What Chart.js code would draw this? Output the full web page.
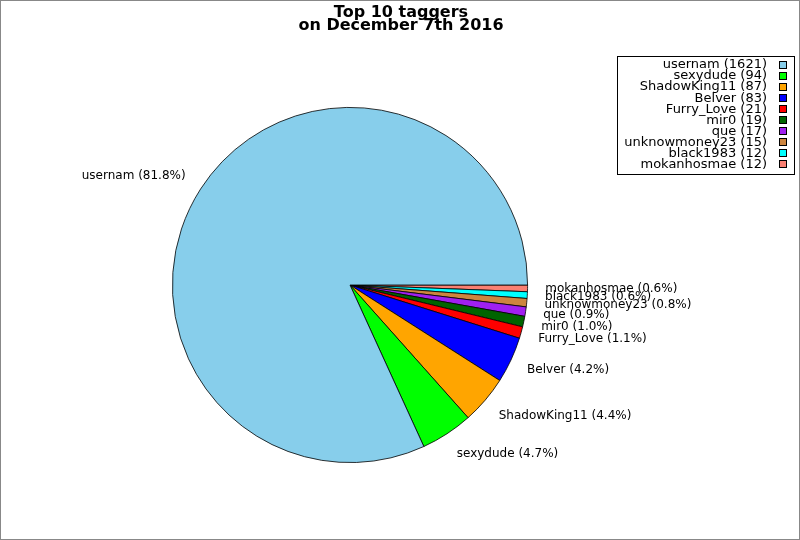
<!DOCTYPE html>
<html>
<head>
<meta charset="utf-8">
<script src="https://cdn.jsdelivr.net/npm/chart.js@4/dist/chart.umd.min.js"></script>
<style>
  html, body { margin: 0; padding: 0; background: #fff; }
  #wrap { position: relative; width: 800px; height: 540px; box-sizing: border-box; border: 1px solid #888; }
</style>
</head>
<body>
<div id="wrap"><canvas id="pieChart"></canvas></div>
<script>
// data
const taggers = ["usernam", "sexydude", "ShadowKing11", "Belver", "Furry_Love", "mir0", "que", "unknowmoney23", "black1983", "mokanhosmae"];
const tagCounts = [1621, 94, 87, 83, 21, 19, 17, 15, 12, 12];
const sliceColors = ["#87CEEB", "#00FF00", "#FFA500", "#0000FF", "#FF0000", "#006400", "#A020F0", "#CD853F", "#00FFFF", "#FA8072"];
const titleLines = ["Top 10 taggers", "on December 7th 2016"];

const FONT = "DejaVu Sans, Verdana, sans-serif";
const total = tagCounts.reduce((a, b) => a + b, 0);

// the reference goes counter-clockwise from 3 o'clock, chart.js goes clockwise -> reverse
const order = taggers.map((_, i) => i).reverse();

// title, border-framed legend and outside labels
const decorations = {
    id: "decorations",
    afterDraw(chart) {
        const ctx = chart.ctx;
        ctx.save();

        // titel
        ctx.fillStyle = "#000";
        ctx.textAlign = "center";
        ctx.textBaseline = "alphabetic";
        ctx.font = "bold 16px " + FONT;
        titleLines.forEach((t, i) => ctx.fillText(t, 400, 16 + i * 13));

        // labels next to slices
        ctx.textBaseline = "middle";
        ctx.font = "12px " + FONT;
        const meta = chart.getDatasetMeta(0);
        meta.data.forEach((arc, j) => {
            const i = order[j];
            const mid = (arc.startAngle + arc.endAngle) / 2;
            const r = arc.outerRadius * 1.1;
            const x = arc.x + Math.cos(mid) * r;
            const y = arc.y + Math.sin(mid) * r + Math.sin(mid) * 6;
            const pct = (tagCounts[i] / total * 100).toFixed(1);
            ctx.textAlign = Math.cos(mid) >= 0 ? "left" : "right";
            ctx.fillText(taggers[i] + " (" + pct + "%)", x, y);
        });

        // legend
        const lx = 616, ly = 55, lw = 177, lh = 118;
        ctx.fillStyle = "#fff";
        ctx.fillRect(lx, ly, lw, lh);
        ctx.strokeStyle = "#000";
        ctx.lineWidth = 1;
        ctx.strokeRect(lx + 0.5, ly + 0.5, lw, lh);
        ctx.font = "13px " + FONT;
        taggers.forEach((name, i) => {
            const y = 64 + i * 11.05;
            ctx.fillStyle = "#000";
            ctx.textAlign = "right";
            ctx.fillText(name + " (" + tagCounts[i] + ")", 766, y);
            ctx.fillStyle = sliceColors[i];
            ctx.fillRect(778, Math.round(y) - 4, 8, 8);
            ctx.strokeRect(778.5, Math.round(y) - 3.5, 7, 7);
        });
        ctx.restore();
    }
};

new Chart(document.getElementById("pieChart").getContext("2d"), {
    type: "pie",
    data: {
        labels: order.map(i => taggers[i]),
        datasets: [{
            data: order.map(i => tagCounts[i]),
            backgroundColor: order.map(i => sliceColors[i]),
            borderColor: "#000",
            borderWidth: 0.8
        }]
    },
    options: {
        responsive: true,
        maintainAspectRatio: false,
        animation: false,
        rotation: 90,
        layout: { padding: { left: 171, right: 271, top: 106, bottom: 76 } },
        plugins: {
            legend: { display: false },
            title: { display: false },
            tooltip: { enabled: false }
        }
    },
    plugins: [decorations]
});
</script>
</body>
</html>
